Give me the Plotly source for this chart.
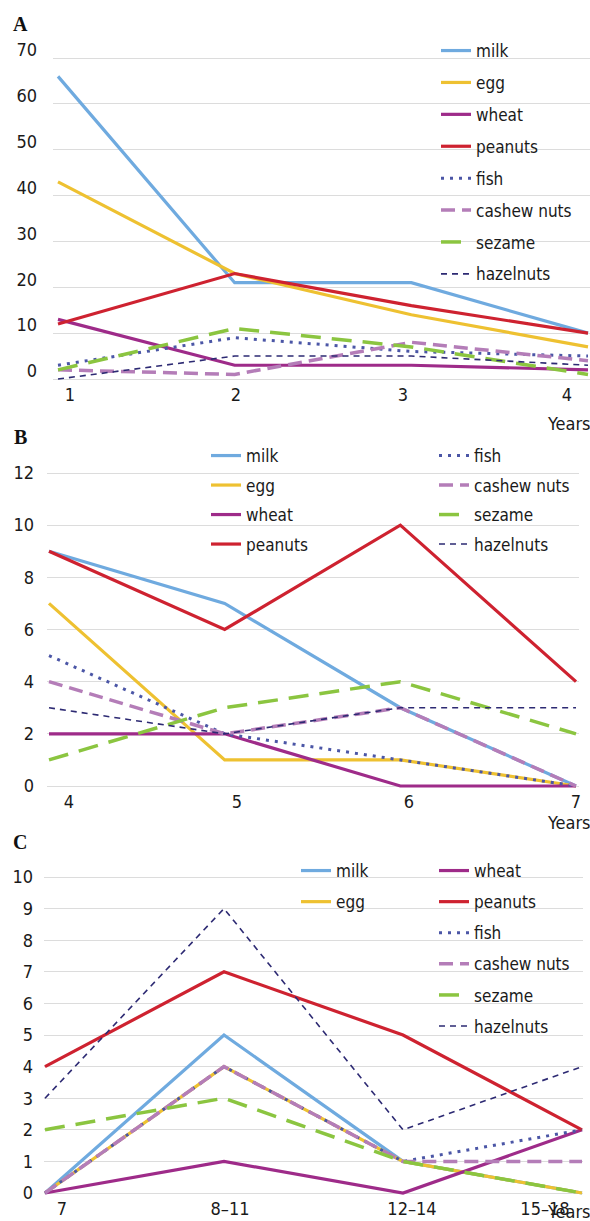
import plotly.graph_objects as go

W, H = 590, 1221

# ---------------- data ----------------
series_names = ["milk", "egg", "wheat", "peanuts", "fish", "cashew nuts", "sezame", "hazelnuts"]

A_years = [1, 2, 3, 4]
A_milk = [66, 21, 21, 10]
A_egg = [43, 23, 14, 7]
A_wheat = [13, 3, 3, 2]
A_peanuts = [12, 23, 16, 10]
A_fish = [3, 9, 6, 5]
A_cashew = [2, 1, 8, 4]
A_sezame = [2, 11, 7, 1]
A_hazelnuts = [0, 5, 5, 3]

B_years = [4, 5, 6, 7]
B_milk = [9, 7, 3, 0]
B_egg = [7, 1, 1, 0]
B_wheat = [2, 2, 0, 0]
B_peanuts = [9, 6, 10, 4]
B_fish = [5, 2, 1, 0]
B_cashew = [4, 2, 3, 0]
B_sezame = [1, 3, 4, 2]
B_hazelnuts = [3, 2, 3, 3]

C_years = ["7", "8–11", "12–14", "15–18"]
C_milk = [0, 5, 1, 0]
C_egg = [0, 4, 1, 0]
C_wheat = [0, 1, 0, 2]
C_peanuts = [4, 7, 5, 2]
C_fish = [0, 4, 1, 2]
C_cashew = [0, 4, 1, 1]
C_sezame = [2, 3, 1, 0]
C_hazelnuts = [3, 9, 2, 4]

# ---------------- styles ----------------
styles = {
    "milk": dict(color="#6FAADF", width=3.2, dash="solid"),
    "egg": dict(color="#EEC131", width=3.2, dash="solid"),
    "wheat": dict(color="#9E2B89", width=3.2, dash="solid"),
    "peanuts": dict(color="#CE2230", width=3.2, dash="solid"),
    "fish": dict(color="#4B56A6", width=3, dash="3px,6px"),
    "cashew nuts": dict(color="#B47DB8", width=3.5, dash="14px,7px"),
    "sezame": dict(color="#8BC540", width=3.5, dash="20px,11px"),
    "hazelnuts": dict(color="#2D2A73", width=1.6, dash="6px,5px"),
}

FONT = "Liberation Sans Narrow, DejaVu Sans Condensed, Arial Narrow, sans-serif"
FS = 17
TXT = "#1a1a1a"


def ydom(top_px, bot_px, top_val, bot_val, pad=3):
    unit = (bot_px - top_px) / (top_val - bot_val)
    rng = [bot_val - pad / unit, top_val + pad / unit]
    dom = [1 - (bot_px + pad) / H, 1 - (top_px - pad) / H]
    return dom, rng


def xdom(left_px, right_px, pa, va, pb, vb):
    unit = (pb - pa) / (vb - va)
    rng = [va - (pa - left_px) / unit, vb + (right_px - pb) / unit]
    dom = [left_px / W, right_px / W]
    return dom, rng, (lambda px: va + (px - pa) / unit)


fig = go.Figure()

panels = [
    ("x", "y", A_years, [A_milk, A_egg, A_wheat, A_peanuts, A_fish, A_cashew, A_sezame, A_hazelnuts]),
    ("x2", "y2", B_years, [B_milk, B_egg, B_wheat, B_peanuts, B_fish, B_cashew, B_sezame, B_hazelnuts]),
    ("x3", "y3", C_years, [C_milk, C_egg, C_wheat, C_peanuts, C_fish, C_cashew, C_sezame, C_hazelnuts]),
]

legend_map = [
    ["legend"] * 8,
    ["legend2"] * 4 + ["legend3"] * 4,
    ["legend4"] * 2 + ["legend5"] * 6,
]

for pi, (xa, ya, xs, ys_list) in enumerate(panels):
    for si, (name, ys) in enumerate(zip(series_names, ys_list)):
        st = styles[name]
        fig.add_trace(go.Scatter(
            x=xs, y=ys, mode="lines", name=name,
            xaxis=xa, yaxis=ya,
            line=dict(color=st["color"], width=st["width"], dash=st["dash"]),
            legend=legend_map[pi][si],
            legendgroup=f"p{pi}_{si}",
            showlegend=True,
            hoverinfo="skip",
        ))

# ---------------- axes ----------------
axis_common = dict(showline=False, zeroline=False, ticks="",
                   tickfont=dict(family=FONT, size=18, color=TXT))
ygrid = dict(showgrid=True, gridcolor="#DCDCDC", gridwidth=1)

dA_y, rA_y = ydom(58, 379, 70, 0)
dA_x, rA_x, pxA = xdom(53, 590, 58, 1, 588, 4)
dB_y, rB_y = ydom(473, 786, 12, 0)
dB_x, rB_x, pxB = xdom(47, 579, 49, 4, 576, 7)
dC_y, rC_y = ydom(877, 1193, 10, 0)
dC_x, rC_x, pxC = xdom(44, 583, 45, 0, 582, 3)

# tick-label centre positions as they appear in the reference (pixels)
A_lab_px = [70, 236, 403, 567]
B_lab_px = [69, 237, 409, 576]
C_lab_px = [62, 230, 412, 545]

fig.update_layout(
    xaxis=dict(domain=dA_x, range=rA_x, anchor="y", tickmode="array",
               tickvals=[pxA(p) for p in A_lab_px], ticktext=[str(v) for v in A_years],
               showgrid=False, **axis_common),
    yaxis=dict(domain=dA_y, range=rA_y, anchor="x", dtick=10, ticklabelstandoff=15, ticklabelshift=-8,
               **ygrid, **axis_common),
    xaxis2=dict(domain=dB_x, range=rB_x, anchor="y2", tickmode="array",
                tickvals=[pxB(p) for p in B_lab_px], ticktext=[str(v) for v in B_years],
                showgrid=False, **axis_common),
    yaxis2=dict(domain=dB_y, range=rB_y, anchor="x2", dtick=2, ticklabelstandoff=12,
                **ygrid, **axis_common),
    xaxis3=dict(domain=dC_x, range=rC_x, anchor="y3", type="category", tickmode="array",
                tickvals=[pxC(p) for p in C_lab_px], ticktext=C_years,
                showgrid=False, **axis_common),
    yaxis3=dict(domain=dC_y, range=rC_y, anchor="x3", dtick=1, ticklabelstandoff=10,
                **ygrid, **axis_common),
)


def leg(x_px, y_px, gap):
    return dict(x=x_px / W, y=1 - y_px / H, xanchor="left", yanchor="top",
                bgcolor="rgba(0,0,0,0)", borderwidth=0, tracegroupgap=gap,
                font=dict(family=FONT, size=FS, color=TXT), itemwidth=30)


fig.update_layout(
    legend=leg(436, 33, 6.8),
    legend2=leg(206, 438, 4.4),
    legend3=leg(434, 438, 4.4),
    legend4=leg(296, 853, 6),
    legend5=leg(434, 853, 6),
)

# ---------------- annotations ----------------
ann_font = dict(family=FONT, size=18, color=TXT)
letter_font = dict(family="Liberation Serif, DejaVu Serif, serif", size=20, color="#111111")
annotations = []
for txt, yc in [("A", 24), ("B", 437), ("C", 842)]:
    annotations.append(dict(text=f"<b>{txt}</b>", x=20 / W, y=1 - yc / H, xref="paper", yref="paper",
                            showarrow=False, font=letter_font, xanchor="center", yanchor="middle"))
for yc in [423, 822, 1211]:
    annotations.append(dict(text="Years", x=568 / W, y=1 - yc / H, xref="paper", yref="paper",
                            showarrow=False, font=ann_font, xanchor="center", yanchor="middle"))

fig.update_layout(
    width=W, height=H,
    margin=dict(l=0, r=0, t=0, b=0, autoexpand=False),
    paper_bgcolor="white", plot_bgcolor="white",
    annotations=annotations,
    showlegend=True,
)

fig.write_html("out.html", config={"displayModeBar": False},
               post_script="document.body.style.margin='0';document.body.style.overflow='hidden';")
